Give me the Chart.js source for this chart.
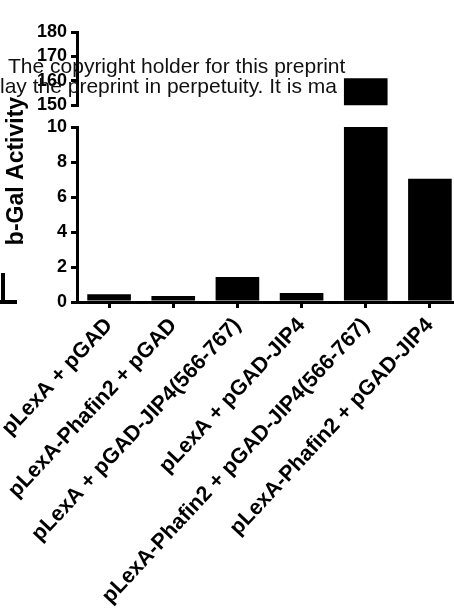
<!DOCTYPE html>
<html>
<head>
<meta charset="utf-8">
<script src="https://cdn.jsdelivr.net/npm/chart.js@4"></script>
<style>
  html, body { margin: 0; padding: 0; background: #fff; overflow: hidden; width: 454px; height: 616px; }
  #wrap { position: relative; width: 470px; height: 616px; }
  #low, #high { position: absolute; left: 0; top: 0; }
</style>
</head>
<body>
<div id="wrap">
  <canvas id="low" width="470" height="616"></canvas>
  <canvas id="high" width="470" height="120"></canvas>
</div>
<script>
// data
var categories = [
  "pLexA + pGAD",
  "pLexA-Phafin2 + pGAD",
  "pLexA + pGAD-JIP4(566-767)",
  "pLexA + pGAD-JIP4",
  "pLexA-Phafin2 + pGAD-JIP4(566-767)",
  "pLexA-Phafin2 + pGAD-JIP4"
];
var activity = [0.45, 0.34, 1.43, 0.51, 161, 7.05];
var lowTicks = [0, 2, 4, 6, 8, 10];
var highTicks = [150, 160, 170, 180];

var FONT = "'Liberation Sans', Arial, sans-serif";
var AXIS_W = 77;

function baseOptions(ticks, showX) {
  var opts = {
    responsive: false,
    animation: false,
    plugins: { legend: { display: false }, tooltip: { enabled: false } },
    scales: {
      x: {
        display: showX,
        offset: true,
        grid: { offset: false, drawOnChartArea: false, drawTicks: true, tickLength: 6, color: '#000', lineWidth: 3 },
        border: { display: true, color: '#000', width: 3 },
        ticks: {
          autoSkip: false, maxRotation: 47, minRotation: 47, padding: 5,
          color: '#000', font: { family: FONT, size: 21.5, weight: 'bold' }
        }
      },
      y: {
        min: ticks[0],
        max: ticks[ticks.length - 1],
        grid: { drawOnChartArea: false, drawTicks: true, tickLength: 6, color: '#000', lineWidth: 3 },
        border: { display: true, color: '#000', width: 3 },
        ticks: {
          stepSize: ticks[1] - ticks[0], padding: 4,
          color: '#000', font: { family: FONT, size: 18, weight: 'bold' }
        },
        afterFit: function (s) { s.width = AXIS_W; }
      }
    }
  };
  if (showX) {
    opts.scales.x.afterFit = function (s) {
      s.height = 314;
      s.paddingLeft = 0;
      s.paddingRight = 0;
    };
  }
  return opts;
}

function dataset() {
  return {
    data: activity,
    backgroundColor: '#000',
    borderWidth: 0,
    categoryPercentage: 1,
    barPercentage: 0.68,
    clip: 0
  };
}

// lower part 0-10 with x labels, y title and the stray bit of the next panel
var lowOpts = baseOptions(lowTicks, true);
lowOpts.layout = { padding: { top: 127, right: 8, left: 0, bottom: 0 } };

var extras = {
  id: 'extras',
  afterDraw: function (chart) {
    var ctx = chart.ctx;
    ctx.save();
    ctx.fillStyle = '#000';
    ctx.fillRect(1, 273, 4, 31);
    ctx.fillRect(0, 300, 17, 4);
    ctx.translate(23, 171);
    ctx.rotate(-Math.PI / 2);
    ctx.textAlign = 'center';
    ctx.textBaseline = 'alphabetic';
    ctx.font = 'bold 23px ' + FONT;
    ctx.fillText('b-Gal Activity', 0, 0);
    ctx.restore();
  }
};

new Chart(document.getElementById('low'), {
  type: 'bar',
  data: { labels: categories, datasets: [dataset()] },
  options: lowOpts,
  plugins: [extras]
});

// upper part 150-180
var highOpts = baseOptions(highTicks, false);
highOpts.layout = { padding: { top: 32, right: 8, left: 0, bottom: 14 } };

var watermark = {
  id: 'watermark',
  beforeDatasetsDraw: function (chart) {
    var ctx = chart.ctx;
    ctx.save();
    ctx.fillStyle = '#111';
    ctx.font = '21px ' + FONT;
    ctx.textBaseline = 'alphabetic';
    ctx.fillText('The copyright holder for this preprint', 8, 73);
    ctx.fillText('lay the preprint in perpetuity. It is ma', 0, 93);
    ctx.restore();
  }
};

new Chart(document.getElementById('high'), {
  type: 'bar',
  data: { labels: categories, datasets: [dataset()] },
  options: highOpts,
  plugins: [watermark]
});
</script>
</body>
</html>
